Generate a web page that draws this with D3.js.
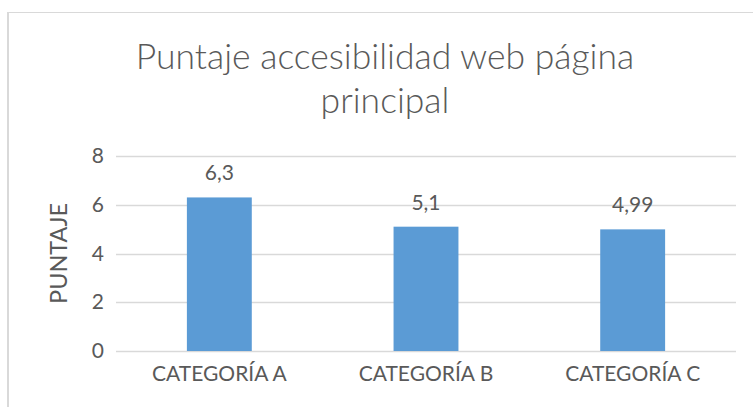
<!DOCTYPE html>
<html>
<head>
<meta charset="utf-8">
<script src="https://cdn.jsdelivr.net/npm/d3@7"></script>
<style>
  html, body { margin: 0; padding: 0; background: #fff; }
  svg { display: block; font-family: Lato, "Open Sans", sans-serif; }
</style>
</head>
<body>
<div id="chart"></div>
<script>
// chart data
const categories = ["CATEGORÍA A", "CATEGORÍA B", "CATEGORÍA C"];
const values = [6.3, 5.1, 4.99];
const yTicks = [0, 2, 4, 6, 8];
const titleLines = ["Puntaje accesibilidad web página", "principal"];
const yTitle = "PUNTAJE";

const width = 753, height = 407;
const textColor = "#595959";

const svg = d3.select("#chart").append("svg")
    .attr("width", width)
    .attr("height", height);

// chart frame (only top and left edges show in the picture)
svg.append("line")
    .attr("x1", 7).attr("x2", width)
    .attr("y1", 12.5).attr("y2", 12.5)
    .attr("stroke", "#d9d9d9").attr("stroke-width", 1);
svg.append("line")
    .attr("x1", 8).attr("x2", 8)
    .attr("y1", 12).attr("y2", height)
    .attr("stroke", "#d9d9d9").attr("stroke-width", 2);

const x = d3.scaleBand()
    .domain(categories)
    .range([116, 736])
    .paddingInner(0.686)
    .paddingOuter(0.343);

const y = d3.scaleLinear()
    .domain([0, 8])
    .range([351, 156]);

const locale = d3.formatLocale({decimal: ",", thousands: ".", grouping: [3], currency: ["", "€"]});
const fmt = locale.format("");

// gridlines
svg.append("g")
    .selectAll("line")
    .data(yTicks)
    .join("line")
    .attr("x1", 116).attr("x2", 736)
    .attr("y1", d => Math.round(y(d)) + 0.5)
    .attr("y2", d => Math.round(y(d)) + 0.5)
    .attr("stroke", "#d9d9d9")
    .attr("stroke-width", 1.5);

// y axis labels
const yAxis = svg.append("g")
    .attr("transform", "translate(104,0)")
    .call(d3.axisLeft(y).tickValues(yTicks).tickSize(0).tickPadding(0).tickFormat(fmt));
yAxis.select(".domain").remove();
yAxis.selectAll("text")
    .attr("fill", textColor)
    .style("font-size", "21px")
    .style("font-family", "Lato, sans-serif");

// x axis labels
const xAxis = svg.append("g")
    .attr("transform", "translate(0,366)")
    .call(d3.axisBottom(x).tickSize(0).tickPadding(0));
xAxis.select(".domain").remove();
xAxis.selectAll("text")
    .attr("fill", textColor)
    .style("font-size", "21px")
    .style("font-family", "Lato, sans-serif");

// bars
svg.append("g")
    .selectAll("rect")
    .data(values)
    .join("rect")
    .attr("x", (d, i) => x(categories[i]))
    .attr("width", x.bandwidth())
    .attr("y", d => y(d))
    .attr("height", d => y(0) - y(d))
    .attr("fill", "#5b9bd5");

// value labels
svg.append("g")
    .selectAll("text")
    .data(values)
    .join("text")
    .attr("x", (d, i) => x(categories[i]) + x.bandwidth() / 2)
    .attr("y", d => y(d) - 17)
    .attr("text-anchor", "middle")
    .attr("fill", textColor)
    .style("font-size", "21px")
    .text(d => fmt(d));

// y axis title
svg.append("text")
    .attr("transform", "translate(67,253.5) rotate(-90)")
    .attr("text-anchor", "middle")
    .attr("fill", textColor)
    .style("font-size", "23.5px")
    .text(yTitle);

// chart title
svg.append("g")
    .selectAll("text")
    .data(titleLines)
    .join("text")
    .attr("x", 385)
    .attr("y", (d, i) => 69 + i * 44)
    .attr("text-anchor", "middle")
    .attr("fill", textColor)
    .style("font-size", "35.5px")
    .style("font-weight", 300)
    .text(d => d);
</script>
</body>
</html>
